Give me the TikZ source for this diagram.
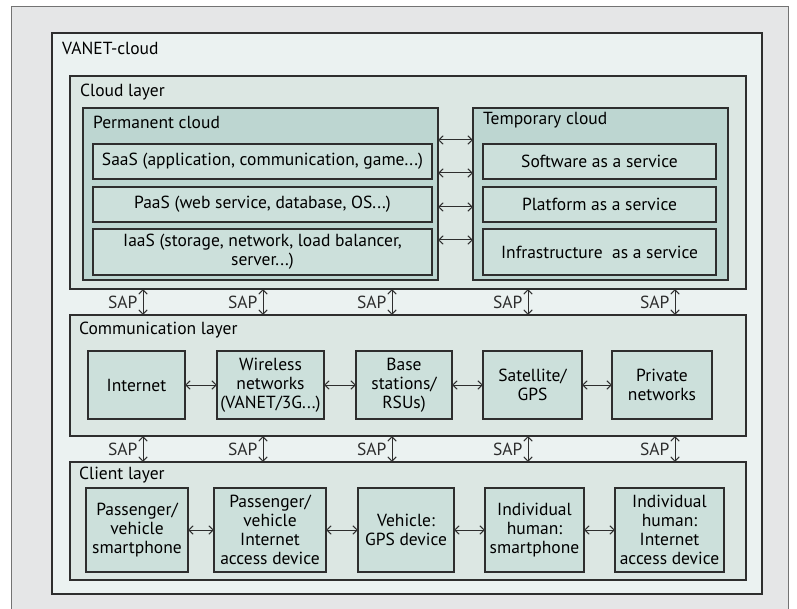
\documentclass[tikz,border=0pt]{standalone}
\usepackage{fontspec}
\setmainfont{PT Sans}
\usetikzlibrary{arrows.meta}

\definecolor{framegray}{HTML}{E5E6E7}
\definecolor{vanetfill}{HTML}{EBF2F1}
\definecolor{layerfill}{HTML}{DCE7E3}
\definecolor{cloudfill}{HTML}{BDD6D1}
\definecolor{boxfill}{HTML}{CCE0DB}
\definecolor{linegray}{HTML}{2E2E2E}

\tikzset{
  container/.style={draw=linegray, line width=1.2pt, inner sep=0pt, outer sep=0pt},
  unit/.style={draw=linegray, fill=boxfill, line width=1.2pt, inner sep=2pt, outer sep=0pt, align=center, font=\fontsize{17.5}{19}\selectfont},
  caption/.style={anchor=north west, inner sep=0pt, font=\fontsize{17.5}{19}\selectfont},
  link/.style={linegray, line width=1pt, {Straight Barb[length=4.5pt,width=8.5pt]}-{Straight Barb[length=4.5pt,width=8.5pt]}},
}

\begin{document}
\begin{tikzpicture}[x=1pt, y=-1pt]

  \useasboundingbox (0,0) rectangle (797,609);
  \draw[gray!90!black, line width=1pt, fill=framegray] (11,7) rectangle (788,615);

  % nested layers
  \node[container, fill=vanetfill, minimum width=710pt, minimum height=561pt] (vanet) at (407,313.5) {};
  \node[caption] (vanetlbl) at (62,42) {VANET-cloud};

  \node[container, fill=layerfill, minimum width=676pt, minimum height=213pt] (cloud) at (408,182.5) {};
  \node[caption] (cloudlbl) at (80,84) {Cloud layer};

  \node[container, fill=cloudfill, minimum width=355pt, minimum height=172pt] (perm) at (260.5,194) {};
  \node[caption] (permlbl) at (93,116) {Permanent cloud};
  \node[container, fill=cloudfill, minimum width=255pt, minimum height=172pt] (temp) at (600.5,194) {};
  \node[caption] (templbl) at (483,112) {Temporary cloud};

  \node[unit, minimum width=339pt, minimum height=35pt] (saas) at (262.5,161.5) {SaaS (application, communication, game...)};
  \node[unit, minimum width=339pt, minimum height=35pt] (paas) at (262.5,204.5) {PaaS (web service, database, OS...)};
  \node[unit, minimum width=339pt, minimum height=46pt] (iaas) at (262.5,252) {IaaS (storage, network, load balancer,\\ server...)};

  \node[unit, minimum width=233pt, minimum height=35pt] (sw) at (599.5,161.5) {Software as a service};
  \node[unit, minimum width=233pt, minimum height=35pt] (pf) at (599.5,204.5) {Platform as a service};
  \node[unit, minimum width=233pt, minimum height=46pt] (infra) at (599.5,252) {Infrastructure\ \ as a service};

  \foreach \y in {140,173,207,240}
    \draw[link] (perm.east |- 0,\y) -- (temp.west |- 0,\y);

  \node[container, fill=layerfill, minimum width=676pt, minimum height=121pt] (comm) at (408,375.5) {};
  \node[caption] (commlbl) at (79,322) {Communication layer};

  \node[unit, minimum width=97pt, minimum height=68pt] (internet) at (136.5,385) {Internet};
  \node[unit, minimum width=107pt, minimum height=68pt] (wireless) at (270.5,385) {Wireless\\ networks\\ (VANET/3G...)};
  \node[unit, minimum width=96pt, minimum height=68pt] (base) at (404,385) {Base\\ stations/\\ RSUs)};
  \node[unit, minimum width=99pt, minimum height=68pt] (sat) at (532.5,385) {Satellite/\\ GPS};
  \node[unit, minimum width=100pt, minimum height=68pt] (private) at (662,385) {Private\\ networks};

  \draw[link] (internet) -- (wireless);
  \draw[link] (wireless) -- (base);
  \draw[link] (base) -- (sat);
  \draw[link] (sat) -- (private);

  \node[container, fill=layerfill, minimum width=676pt, minimum height=118pt] (client) at (408,521) {};
  \node[caption] (clientlbl) at (79,467) {Client layer};

  \node[unit, minimum width=102pt, minimum height=84pt] (phone) at (137,530) {Passenger/\\ vehicle\\ smartphone};
  \node[unit, minimum width=112pt, minimum height=84pt] (access) at (270,530) {Passenger/\\ vehicle\\ Internet\\ access device};
  \node[unit, minimum width=96pt, minimum height=84pt] (gps) at (406,530) {Vehicle:\\ GPS device};
  \node[unit, minimum width=99pt, minimum height=84pt] (human) at (534.5,530) {Individual\\ human:\\ smartphone};
  \node[unit, minimum width=109pt, minimum height=84pt] (humanacc) at (669.5,530) {Individual\\ human:\\ Internet\\ access device};

  \draw[link] (phone) -- (access);
  \draw[link] (access) -- (gps);
  \draw[link] (gps) -- (human);
  \draw[link] (human) -- (humanacc);

  % service access points between layers
  \foreach \x in {143,263,392,528,675} {
    \draw[link] (cloud.south -| \x,0) -- node[left=5pt, inner sep=0pt, font=\fontsize{17.5}{19}\selectfont] {SAP} (comm.north -| \x,0);
    \draw[link] (comm.south -| \x,0) -- node[left=5pt, inner sep=0pt, font=\fontsize{17.5}{19}\selectfont] {SAP} (client.north -| \x,0);
  }

\end{tikzpicture}
\end{document}
